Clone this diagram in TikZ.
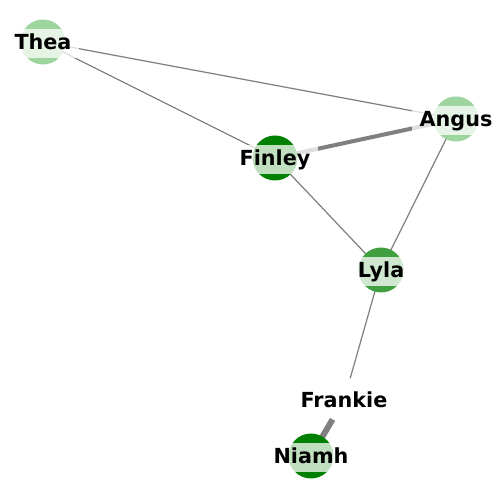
\documentclass[tikz,border=0pt]{standalone}
\usepackage{fontspec}
\setmainfont{DejaVu Sans}
\usepackage{tikz}
\usetikzlibrary{positioning}

\definecolor{lightgr}{RGB}{158,212,158}
\definecolor{midgr}{RGB}{64,160,64}
\definecolor{darkgr}{RGB}{0,128,0}

\tikzset{
  person/.style={circle, minimum size=0.9cm, inner sep=0pt, draw=none},
  tag/.style={fill=white, fill opacity=0.75, text opacity=1, inner xsep=4.3pt, inner ysep=2.8pt,
    text height=8.8pt, text depth=2.4pt, yshift=-0.8pt, font=\fontsize{11.8}{13}\selectfont\bfseries},
  link/.style={draw=gray, line width=0.7pt},
  heavy/.style={draw=gray, line width=2.3pt},
  heavier/.style={draw=gray, line width=3.4pt}
}

\begin{document}
\begin{tikzpicture}[line cap=butt]
        \useasboundingbox (0,0) rectangle (10,10);

        % people
        \coordinate (thea) at (0.86,9.16);
        \coordinate (angus) at (9.12,7.62);
        \coordinate (finley) at (5.50,6.84);
        \coordinate (lyla) at (7.62,4.60);
        \coordinate (frankie) at (6.88,2.00);
        \coordinate (niamh) at (6.22,0.88);

        % links
        \draw[link] (thea) -- (angus);
        \draw[link] (thea) -- (finley);
        \draw[heavy] (finley) -- (angus);
        \draw[link] (finley) -- (lyla);
        \draw[link] (angus) -- (lyla);
        \draw[link] (lyla) -- (frankie);
        \draw[heavier] (frankie) -- (niamh);

        % discs
        \node[person, fill=lightgr] (theaDisc) at (thea) {};
        \node[person, fill=lightgr] (angusDisc) at (angus) {};
        \node[person, fill=darkgr] (finleyDisc) at (finley) {};
        \node[person, fill=midgr] (lylaDisc) at (lyla) {};
        \node[person, fill=white] (frankieDisc) at (frankie) {};
        \node[person, fill=darkgr] (niamhDisc) at (niamh) {};

        % names
        \node[tag] (theaName) at (thea) {Thea};
        \node[tag] (angusName) at (angus) {Angus};
        \node[tag] (finleyName) at (finley) {Finley};
        \node[tag] (lylaName) at (lyla) {Lyla};
        \node[tag] (frankieName) at (frankie) {Frankie};
        \node[tag] (niamhName) at (niamh) {Niamh};
\end{tikzpicture}
\end{document}
